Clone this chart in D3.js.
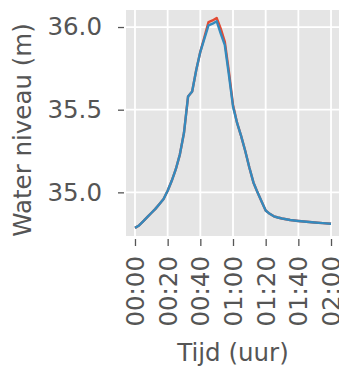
<!DOCTYPE html>
<html>
<head>
<meta charset="utf-8">
<script src="https://cdn.jsdelivr.net/npm/d3@7"></script>
<style>
  html, body { margin: 0; padding: 0; background: #ffffff; }
  svg { display: block; }
  text { font-family: "DejaVu Sans", sans-serif; fill: #555555; }
</style>
</head>
<body>
<svg id="chart" width="339" height="369"></svg>
<script>
// Time in minutes since 00:00
const times = [0, 2.5, 5, 7.5, 10, 12.5, 15, 17.5, 20, 22.5, 25, 27.5, 30, 32.5, 35, 37.5,
  40, 42.5, 45, 47.5, 50, 52.5, 55, 57.5, 60, 62.5, 65, 67.5, 70, 72.5, 75, 77.5, 80,
  82.5, 85, 87.5, 90, 95, 100, 105, 110, 115, 120];
// Series 1 (red)
const seriesRed = [34.785, 34.80, 34.825, 34.85, 34.875, 34.90, 34.93, 34.96, 35.01, 35.07,
  35.14, 35.23, 35.36, 35.58, 35.61, 35.74, 35.85, 35.94, 36.03, 36.04, 36.055, 35.99,
  35.91, 35.73, 35.53, 35.42, 35.34, 35.25, 35.15, 35.06, 35.00, 34.945, 34.89, 34.87,
  34.855, 34.848, 34.842, 34.833, 34.827, 34.822, 34.818, 34.814, 34.81];
// Series 2 (blue)
const seriesBlue = [34.785, 34.80, 34.825, 34.85, 34.875, 34.90, 34.93, 34.96, 35.01, 35.07,
  35.14, 35.23, 35.36, 35.58, 35.61, 35.74, 35.85, 35.93, 36.01, 36.02, 36.035, 35.96,
  35.89, 35.71, 35.52, 35.42, 35.34, 35.25, 35.15, 35.06, 35.00, 34.945, 34.89, 34.87,
  34.855, 34.848, 34.842, 34.833, 34.827, 34.822, 34.818, 34.814, 34.81];
const xTickValues = [0, 20, 40, 60, 80, 100, 120];
const xTickLabels = ["00:00", "00:20", "00:40", "01:00", "01:20", "01:40", "02:00"];
const yTickValues = [35.0, 35.5, 36.0];
const yTickLabels = ["35.0", "35.5", "36.0"];
const xLabel = "Tijd (uur)";
const yLabel = "Water niveau (m)";

const svg = d3.select("#chart");
const plot = { left: 126, top: 10, right: 340, bottom: 236 };

const x = d3.scaleLinear().domain([-5.5, 125.5]).range([plot.left, plot.right]);
const y = d3.scaleLinear().domain([34.736, 36.103]).range([plot.bottom, plot.top]);

// background
svg.append("rect")
  .attr("x", plot.left).attr("y", plot.top)
  .attr("width", plot.right - plot.left).attr("height", plot.bottom - plot.top)
  .attr("fill", "#E5E5E5");

// grid
const g = svg.append("g");
g.selectAll("line.vg").data(xTickValues).enter().append("line")
  .attr("x1", d => x(d)).attr("x2", d => x(d))
  .attr("y1", plot.top).attr("y2", plot.bottom)
  .attr("stroke", "#ffffff").attr("stroke-width", 1.8);
g.selectAll("line.hg").data(yTickValues).enter().append("line")
  .attr("y1", d => y(d)).attr("y2", d => y(d))
  .attr("x1", plot.left).attr("x2", plot.right)
  .attr("stroke", "#ffffff").attr("stroke-width", 1.8);

// axes
const xAxis = d3.axisBottom(x).tickValues(xTickValues)
  .tickFormat((d, i) => xTickLabels[i]).tickSize(7).tickPadding(11);
const xa = svg.append("g").attr("transform", `translate(0,${plot.bottom + 3})`).call(xAxis);
xa.select(".domain").remove();
xa.selectAll(".tick line").attr("stroke", "#555555").attr("stroke-width", 1.3);
xa.selectAll(".tick text")
  .attr("transform", "rotate(-90)")
  .attr("text-anchor", "end")
  .attr("x", -17).attr("y", 0).attr("dy", "0.35em")
  .style("font-size", "24.5px").style("fill", "#555555")
  .style("font-family", "DejaVu Sans, sans-serif");

const yAxis = d3.axisLeft(y).tickValues(yTickValues)
  .tickFormat((d, i) => yTickLabels[i]).tickSize(6).tickPadding(16);
const ya = svg.append("g").attr("transform", `translate(${plot.left - 2},0)`).call(yAxis);
ya.select(".domain").remove();
ya.selectAll(".tick line").attr("stroke", "#555555").attr("stroke-width", 1.3);
ya.selectAll(".tick text")
  .style("font-size", "24.5px").style("fill", "#555555")
  .style("font-family", "DejaVu Sans, sans-serif");

// lines
const line = d3.line().x((d, i) => x(times[i])).y(d => y(d));
svg.append("path").datum(seriesRed)
  .attr("d", line).attr("fill", "none")
  .attr("stroke", "#E24A33").attr("stroke-width", 2.4).attr("stroke-linejoin", "round");
svg.append("path").datum(seriesBlue)
  .attr("d", line).attr("fill", "none")
  .attr("stroke", "#348ABD").attr("stroke-width", 2.4).attr("stroke-linejoin", "round");

// axis labels
svg.append("text")
  .attr("x", (plot.left + plot.right) / 2).attr("y", 361)
  .attr("text-anchor", "middle")
  .style("font-size", "24.5px")
  .text(xLabel);
svg.append("text")
  .attr("transform", `translate(31,${(plot.top + plot.bottom) / 2 + 7}) rotate(-90)`)
  .attr("text-anchor", "middle")
  .style("font-size", "24.5px")
  .text(yLabel);
</script>
</body>
</html>
